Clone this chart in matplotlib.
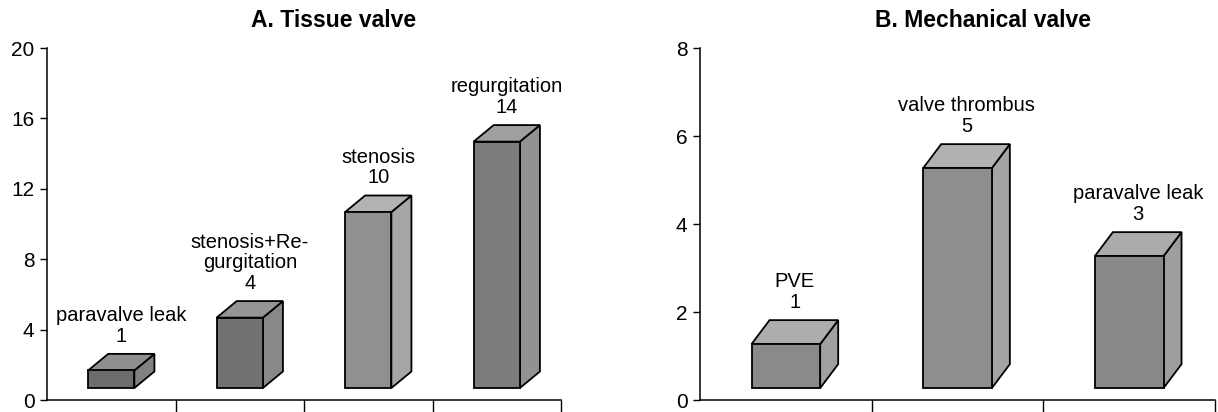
import matplotlib
matplotlib.use("Agg")
import matplotlib.pyplot as plt
from matplotlib.patches import Polygon

plt.rcParams['font.family'] = ['Liberation Sans', 'DejaVu Sans']

# Panel A: tissue valve
tissue_labels = ['paravalve leak', 'stenosis+Re-\ngurgitation', 'stenosis', 'regurgitation']
tissue_counts = [1, 4, 10, 14]
# Panel B: mechanical valve
mech_labels = ['PVE', 'valve thrombus', 'paravalve leak']
mech_counts = [1, 5, 3]

tissue_front = ['#6c6c6c', '#727272', '#909090', '#7c7c7c']
mech_front = ['#8a8a8a', '#8e8e8e', '#888888']


def lighten(c, amt):
    v = int(c[1:3], 16)
    v = min(255, v + amt)
    return '#%02x%02x%02x' % (v, v, v)


def draw_panel(ax, labels, counts, fronts, ymax, step, width, base, dx, dy):
    n = len(counts)
    for i, (lab, v, fc) in enumerate(zip(labels, counts, fronts)):
        x0, x1 = i - width / 2, i + width / 2
        top = base + v
        # side face
        ax.add_patch(Polygon([(x1, base), (x1 + dx, base + dy), (x1 + dx, top + dy), (x1, top)],
                             closed=True, facecolor=lighten(fc, 22), edgecolor='black', lw=1.3, zorder=2))
        # top face
        ax.add_patch(Polygon([(x0, top), (x1, top), (x1 + dx, top + dy), (x0 + dx, top + dy)],
                             closed=True, facecolor=lighten(fc, 35), edgecolor='black', lw=1.3, zorder=2))
        # front face
        ax.bar(i, v, width=width, bottom=base, color=fc, edgecolor='black', lw=1.3, zorder=3)
        ax.annotate(f'{lab}\n{v}', (i + dx / 2, top + dy), xytext=(0, 6), textcoords='offset points',
                    ha='center', va='bottom', fontsize=14.5, linespacing=1.1)

    ax.set_xlim(-0.5, n - 0.5)
    ax.set_ylim(0, ymax)
    ax.set_yticks(range(0, ymax + 1, step))
    ax.set_xticks([i + 0.5 for i in range(n)])
    ax.set_xticklabels([])
    ax.tick_params(axis='y', direction='out', length=5, width=1, labelsize=15, pad=4)
    ax.tick_params(axis='x', direction='out', length=9, width=1)
    for s in ['top', 'right']:
        ax.spines[s].set_visible(False)
    for s in ['left', 'bottom']:
        ax.spines[s].set_linewidth(1.1)


fig = plt.figure(figsize=(12.18, 4.12), dpi=100)
ax1 = fig.add_axes([47 / 1218, 12 / 412, 514 / 1218, 352 / 412])
ax2 = fig.add_axes([700 / 1218, 12 / 412, 515 / 1218, 352 / 412])

draw_panel(ax1, tissue_labels, tissue_counts, tissue_front, 20, 4, 0.36, 0.68, 0.156, 0.94)
draw_panel(ax2, mech_labels, mech_counts, mech_front, 8, 2, 0.40, 0.27, 0.105, 0.545)

fig.text(334 / 1218, 1 - 27 / 412, 'A. Tissue valve', ha='center', va='baseline',
         fontsize=16.5, fontweight='bold')
fig.text(983 / 1218, 1 - 27 / 412, 'B. Mechanical valve', ha='center', va='baseline',
         fontsize=16.5, fontweight='bold')

plt.savefig('out.png', dpi=100)
